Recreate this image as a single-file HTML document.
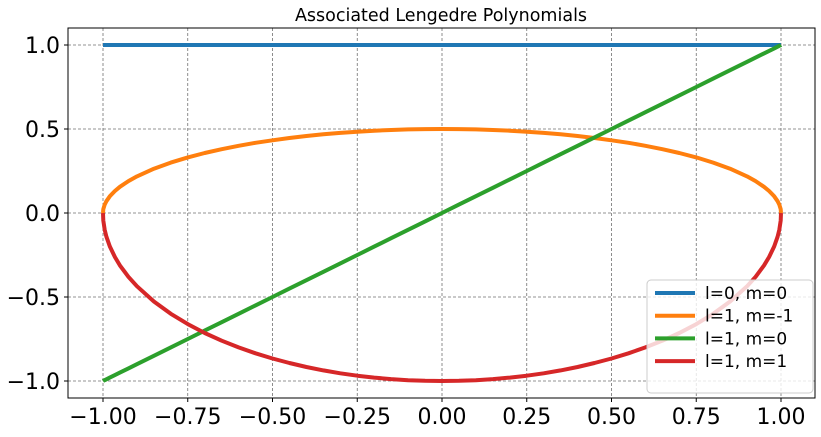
<!DOCTYPE html>
<html><head><meta charset="utf-8"><style>
html,body{margin:0;padding:0;background:#fff;}
svg{display:block;font-family:"DejaVu Sans","Liberation Sans",sans-serif;}
</style></head><body>
<svg id="chart" width="821" height="437">
<text x="441" y="21" text-anchor="middle" font-size="17.5">Associated Lengedre Polynomials</text>
<g id="grid"></g><g id="series"></g><g id="axes"></g><g id="legend"></g>
</svg>
<script>
const xTicks=[-1,-0.75,-0.5,-0.25,0,0.25,0.5,0.75,1];
const xTickLabels=["−1.00","−0.75","−0.50","−0.25","0.00","0.25","0.50","0.75","1.00"];
const yTicks=[-1,-0.5,0,0.5,1];
const yTickLabels=["−1.0","−0.5","0.0","0.5","1.0"];
const xs=[-1,-0.999,-0.995,-0.99,-0.98,-0.965,-0.95,-0.925,-0.9,-0.85,-0.8,-0.75,-0.7,-0.65,-0.6,-0.55,-0.5,-0.45,-0.4,-0.35,-0.3,-0.25,-0.2,-0.15,-0.1,-0.05,0,0.05,0.1,0.15,0.2,0.25,0.3,0.35,0.4,0.45,0.5,0.55,0.6,0.65,0.7,0.75,0.8,0.85,0.9,0.925,0.95,0.965,0.98,0.99,0.995,0.999,1];
const p00=[1,1,1,1,1,1,1,1,1,1,1,1,1,1,1,1,1,1,1,1,1,1,1,1,1,1,1,1,1,1,1,1,1,1,1,1,1,1,1,1,1,1,1,1,1,1,1,1,1,1,1,1,1];
const p1m1=[0,0.0224,0.0500,0.0705,0.0995,0.1311,0.1561,0.1900,0.2179,0.2634,0.3,0.3307,0.3571,0.3800,0.4,0.4176,0.4330,0.4465,0.4583,0.4684,0.4770,0.4841,0.4899,0.4943,0.4975,0.4994,0.5,0.4994,0.4975,0.4943,0.4899,0.4841,0.4770,0.4684,0.4583,0.4465,0.4330,0.4176,0.4,0.3800,0.3571,0.3307,0.3,0.2634,0.2179,0.1900,0.1561,0.1311,0.0995,0.0705,0.0500,0.0224,0];
const p10=[-1,-0.999,-0.995,-0.99,-0.98,-0.965,-0.95,-0.925,-0.9,-0.85,-0.8,-0.75,-0.7,-0.65,-0.6,-0.55,-0.5,-0.45,-0.4,-0.35,-0.3,-0.25,-0.2,-0.15,-0.1,-0.05,0,0.05,0.1,0.15,0.2,0.25,0.3,0.35,0.4,0.45,0.5,0.55,0.6,0.65,0.7,0.75,0.8,0.85,0.9,0.925,0.95,0.965,0.98,0.99,0.995,0.999,1];
const p11=[0,-0.0447,-0.0999,-0.1411,-0.1990,-0.2622,-0.3122,-0.3800,-0.4359,-0.5268,-0.6,-0.6614,-0.7141,-0.7599,-0.8,-0.8352,-0.8660,-0.8930,-0.9165,-0.9367,-0.9539,-0.9682,-0.9798,-0.9887,-0.9950,-0.9987,-1,-0.9987,-0.9950,-0.9887,-0.9798,-0.9682,-0.9539,-0.9367,-0.9165,-0.8930,-0.8660,-0.8352,-0.8,-0.7599,-0.7141,-0.6614,-0.6,-0.5268,-0.4359,-0.3800,-0.3122,-0.2622,-0.1990,-0.1411,-0.0999,-0.0447,0];
const seriesNames=["l=0, m=0","l=1, m=-1","l=1, m=0","l=1, m=1"];
const seriesData=[p00,p1m1,p10,p11];
const colors=["#1f77b4","#ff7f0e","#2ca02c","#d62728"];
const NS="http://www.w3.org/2000/svg";
const L=68,R=815,T=28,B=398;
const sx=v=>442+v*339, sy=v=>213-v*168;
function mk(t,a,p){const e=document.createElementNS(NS,t);for(const k in a)e.setAttribute(k,a[k]);p.appendChild(e);return e;}
const grid=document.getElementById('grid'),axes=document.getElementById('axes'),ser=document.getElementById('series'),leg=document.getElementById('legend');
xTicks.forEach((v,i)=>{
 const g=mk('line',{x1:sx(v),x2:sx(v),y1:T,y2:B,stroke:'#707070','stroke-width':0.8,'stroke-dasharray':'3,2'},grid);
 
 
 mk('line',{x1:sx(v),x2:sx(v),y1:B,y2:B+4,stroke:'#000'},axes);
 const t=mk('text',{x:sx(v),y:B+26,'text-anchor':'middle','font-size':22},axes);t.textContent=xTickLabels[i];
 
 
});
yTicks.forEach((v,i)=>{
 const g=mk('line',{x1:L,x2:R,y1:sy(v),y2:sy(v),stroke:'#707070','stroke-width':0.8,'stroke-dasharray':'3,2'},grid);
 
 
 mk('line',{x1:L-4,x2:L,y1:sy(v),y2:sy(v),stroke:'#000'},axes);
 const t=mk('text',{x:L-8,y:sy(v)+8,'text-anchor':'end','font-size':22},axes);t.textContent=yTickLabels[i];
 
 
});
const fr=mk('rect',{x:L,y:T,width:R-L,height:B-T,fill:'none',stroke:'#000','stroke-width':1},axes);


seriesData.forEach((d,s)=>{
 const pts=xs.map((x,i)=>sx(x).toFixed(1)+','+sy(d[i]).toFixed(1)).join(' ');
 const p=mk('polyline',{points:pts,fill:'none',stroke:colors[s],'stroke-width':4,'stroke-linejoin':'round'},ser);
 
 
});
const lb=mk('rect',{x:647,y:280,width:166,height:113,rx:4,fill:'#fff','fill-opacity':0.8,stroke:'#ccc'},leg);


seriesNames.forEach((n,s)=>{
 const y=293+s*22.7;
 mk('line',{x1:655,x2:695,y1:y,y2:y,stroke:colors[s],'stroke-width':4},leg);
 const t=mk('text',{x:705,y:y+6,'font-size':17},leg);t.textContent=n;
 
 
});
</script>
</body></html>
